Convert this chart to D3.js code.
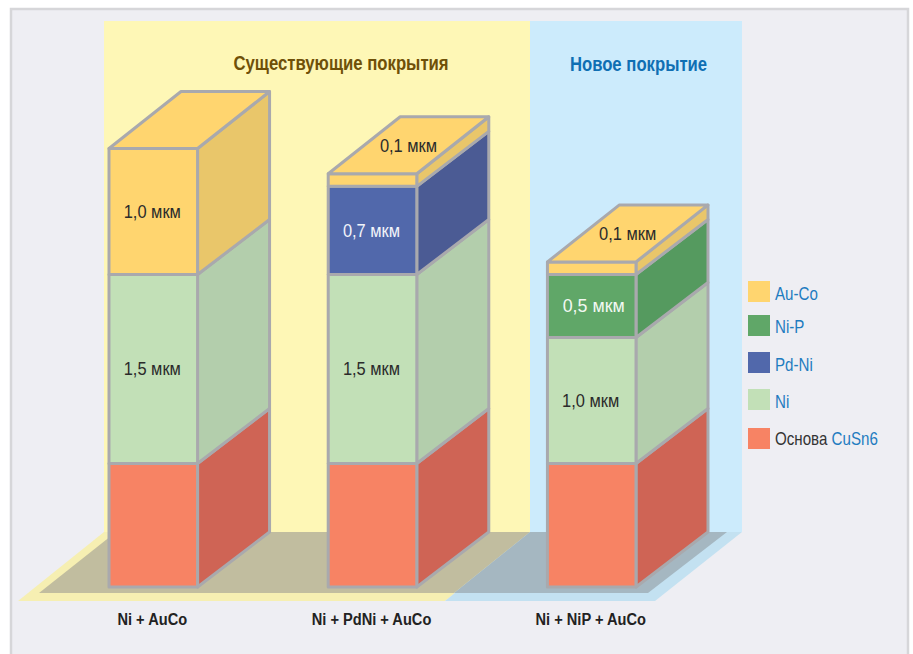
<!DOCTYPE html>
<html lang="ru">
<head>
<meta charset="utf-8">
<script src="https://d3js.org/d3.v7.min.js"></script>
<style>
  html, body { margin: 0; padding: 0; background: #fff; }
  svg { display: block; }
  text { font-family: "Liberation Sans", sans-serif; }
</style>
</head>
<body>
<svg id="chart" width="913" height="654"></svg>
<script>
// Layer thickness in micrometres, one value per plating stack
const categories = ["Ni + AuCo", "Ni + PdNi + AuCo", "Ni + NiP + AuCo"];
const seriesKeys = ["base", "ni", "pdni", "nip", "auco"];
const baseValues = [0.98, 0.98, 0.98];
const niValues   = [1.5, 1.5, 1.0];
const pdniValues = [0, 0.7, 0];
const nipValues  = [0, 0, 0.5];
const aucoValues = [1.0, 0.1, 0.1];

const legendNames = ["Au-Co", "Ni-P", "Pd-Ni", "Ni", "CuSn6"];
const legendKeys  = ["auco", "nip", "pdni", "ni", "base"];

const frontColor = { base: "#F78364", ni: "#C2E0B7", pdni: "#5168AB", nip: "#60A768", auco: "#FFD56F" };
const sideColor  = { base: "#CF6455", ni: "#B3CEAC", pdni: "#4B5B94", nip: "#559A5F", auco: "#E9C66A" };
const labelColor = { ni: "#2b2b2b", pdni: "#f2f4fa", nip: "#f2f8f2", auco: "#2b2b2b" };

const rows = categories.map((c, i) => ({
  category: c,
  base: baseValues[i], ni: niValues[i], pdni: pdniValues[i], nip: nipValues[i], auco: aucoValues[i]
}));
const stacked = d3.stack().keys(seriesKeys)(rows);

const x = d3.scaleBand().domain(categories).range([109, 636]).paddingInner(0.596).paddingOuter(0);
const y = d3.scaleLinear().domain([0, 3.5]).range([587, 146]);

// Oblique projection of the stacks
const depthX = 72, depthY = -55, capRise = -57;
const stroke = "#A9A9AD";
const svg = d3.select("#chart");
const poly = pts => pts.map(p => p.join(",")).join(" ");
const fmt = v => String(v.toFixed(1)).replace(".", ",") + " мкм";

// Condensed lettering: text placed at (px, py) and squeezed horizontally
const squeeze = (sel, px, py, sx) => sel.attr("transform", `translate(${px},${py}) scale(${sx},1)`);

// Page panel
svg.append("rect").attr("x", 11).attr("y", 9).attr("width", 897).attr("height", 650)
  .attr("fill", "#EEEEF3").attr("stroke", "#D6D6D9").attr("stroke-width", 2.5);

// Backdrops and floor
const wall = { top: 21, bottom: 532, left: 104, mid: 530, right: 742 };
svg.append("rect").attr("x", wall.left).attr("y", wall.top).attr("width", wall.mid - wall.left).attr("height", wall.bottom - wall.top).attr("fill", "#FEF7B6");
svg.append("rect").attr("x", wall.mid).attr("y", wall.top).attr("width", wall.right - wall.mid).attr("height", wall.bottom - wall.top).attr("fill", "#CCEBFC");

const floor = svg.append("g");
floor.append("polygon").attr("points", poly([[18, 601], [wall.left, wall.bottom], [wall.mid, wall.bottom], [445, 601]])).attr("fill", "#F6EFB2");
floor.append("polygon").attr("points", poly([[445, 601], [wall.mid, wall.bottom], [wall.right, wall.bottom], [655, 601]])).attr("fill", "#C3E1F1");
floor.append("polygon").attr("points", poly([[39, 593], [116, wall.bottom], [wall.mid, wall.bottom], [454, 593]])).attr("fill", "#C1BD9F");
floor.append("polygon").attr("points", poly([[454, 593], [wall.mid, wall.bottom], [727, wall.bottom], [648, 593]])).attr("fill", "#A5B7C1");

// Headings
svg.append("text").attr("text-anchor", "middle").attr("font-size", 21).attr("font-weight", 700)
  .attr("fill", "#6F5008").text("Существующие покрытия").call(squeeze, 341, 70, 0.797);
svg.append("text").attr("text-anchor", "middle").attr("font-size", 21).attr("font-weight", 700)
  .attr("fill", "#0F6FB3").text("Новое покрытие").call(squeeze, 638.5, 71, 0.795);

// Stacks, drawn layer by layer from the bottom up
const bars = svg.append("g").attr("stroke", stroke).attr("stroke-width", 3).attr("stroke-linejoin", "round");
stacked.forEach(series => {
  series.forEach(d => {
    if (d[1] - d[0] <= 0) return;
    const cat = d.data.category, key = series.key;
    const x0 = x(cat), x1 = x0 + x.bandwidth();
    const yb = y(d[0]), yt = y(d[1]);
    const isTop = d[1] === d3.sum(seriesKeys, k => d.data[k]);
    const rise = isTop ? capRise : depthY;
    bars.append("polygon").attr("fill", sideColor[key])
      .attr("points", poly([[x1, yb], [x1 + depthX, yb + depthY], [x1 + depthX, yt + rise], [x1, yt]]));
    bars.append("rect").attr("x", x0).attr("y", yt).attr("width", x1 - x0).attr("height", yb - yt).attr("fill", frontColor[key]);
    if (isTop) {
      bars.append("polygon").attr("fill", frontColor[key])
        .attr("points", poly([[x0, yt], [x0 + depthX, yt + rise], [x1 + depthX, yt + rise], [x1, yt]]));
    }
  });
});

// Thickness labels: thin top layers carry theirs on the upper face
const labels = svg.append("g").attr("font-size", 17.5).attr("text-anchor", "middle");
stacked.forEach(series => {
  if (series.key === "base") return;
  series.forEach(d => {
    const v = d[1] - d[0];
    if (v <= 0) return;
    const cat = d.data.category;
    const cx = x(cat) + x.bandwidth() / 2;
    const onCap = v < 0.3;
    const px = onCap ? cx + depthX / 2 : cx + (series.key === "nip" ? 2 : -1);
    const py = onCap ? y(d[1]) + capRise / 2 : y((d[0] + d[1]) / 2);
    labels.append("text")
      .attr("dy", "0.36em")
      .attr("fill", labelColor[series.key])
      .text(fmt(v))
      .call(squeeze, px, py, series.key === "nip" ? 1.02 : 0.94);
  });
});

// Category axis beneath the floor
const axis = d3.axisBottom(x).tickSize(0).tickPadding(0);
const axisG = svg.append("g").attr("transform", "translate(-1,613)").call(axis);
axisG.select(".domain").remove();
axisG.selectAll("text").attr("font-family", null).attr("font-size", 17).attr("font-weight", 700)
  .attr("fill", "#222").attr("transform", "scale(0.86,1)");

// Legend
const legendTop = [281, 315, 352, 389, 428];
const legendBaseline = [300, 333, 371, 408, 445];
const legend = svg.append("g");
legendKeys.forEach((k, i) => {
  legend.append("rect").attr("x", 748).attr("y", legendTop[i]).attr("width", 22).attr("height", 21).attr("fill", frontColor[k]);
  const t = legend.append("text").attr("font-size", 17.5).attr("fill", "#1F7CC0")
    .call(squeeze, 775, legendBaseline[i], 0.865);
  if (k === "base") t.append("tspan").attr("fill", "#333").text("Основа ");
  t.append("tspan").text(legendNames[i]);
});
</script>
</body>
</html>
